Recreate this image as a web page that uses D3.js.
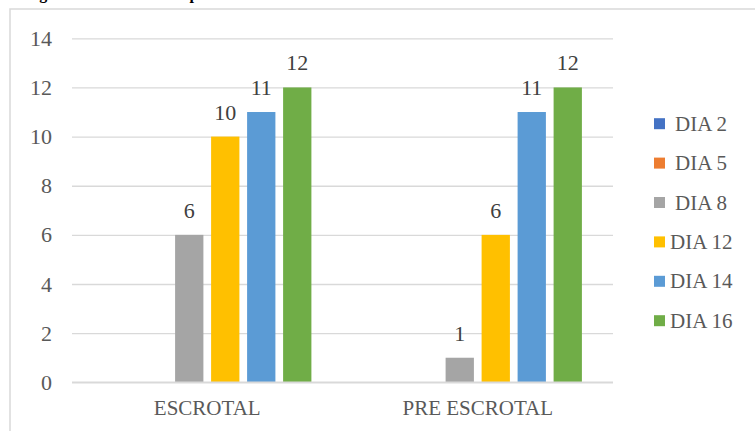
<!DOCTYPE html>
<html>
<head>
<meta charset="utf-8">
<script src="https://cdn.jsdelivr.net/npm/d3@7"></script>
<style>
  html, body { margin: 0; padding: 0; background: #fff; }
  svg { display: block; }
  svg text { font-family: "Liberation Serif", Tinos, "Times New Roman", "DejaVu Serif", serif !important; }
</style>
</head>
<body>
<svg id="chart" width="755" height="431"></svg>
<script>
// Categories on the x axis
const categories = ["ESCROTAL", "PRE ESCROTAL"];
// One series per day
const seriesNames = ["DIA 2", "DIA 5", "DIA 8", "DIA 12", "DIA 14", "DIA 16"];
const seriesColors = ["#4472C4", "#ED7D31", "#A5A5A5", "#FFC000", "#5B9BD5", "#70AD47"];
// Values per series, in category order
const dia2 = [0, 0];
const dia5 = [0, 0];
const dia8 = [6, 1];
const dia12 = [10, 6];
const dia14 = [11, 11];
const dia16 = [12, 12];
const seriesValues = [dia2, dia5, dia8, dia12, dia14, dia16];
const yTicks = [0, 2, 4, 6, 8, 10, 12, 14];

const svg = d3.select("#chart");

// Caption line above the chart frame (mostly outside the view)
svg.append("text")
  .attr("x", 25).attr("y", -1)
  .attr("font-size", 16).attr("font-weight", "bold").attr("fill", "#000")
  .text("Figura 2. Total de casos por día");

// Chart frame
svg.append("rect")
  .attr("x", 10).attr("y", 9).attr("width", 800).attr("height", 500)
  .attr("fill", "none").attr("stroke", "#d9d9d9").attr("stroke-width", 1.5);

const plot = { left: 72, right: 613, top: 38.3, bottom: 382.3 };

const y = d3.scaleLinear().domain([0, 14]).range([plot.bottom, plot.top]);
const x0 = d3.scaleBand().domain(categories).range([plot.left, plot.right]);
const x1 = d3.scaleBand().domain(seriesNames).range([0, x0.bandwidth()])
  .paddingInner(0.214).paddingOuter(0.864);

// Gridlines and value axis labels
const yAxis = d3.axisLeft(y).tickValues(yTicks).tickSize(-(plot.right - plot.left)).tickPadding(20);
const gy = svg.append("g").attr("transform", `translate(${plot.left},0)`).call(yAxis);
gy.select(".domain").remove();
gy.selectAll(".tick line").attr("stroke", "#d9d9d9").attr("stroke-width", 1.3);
gy.selectAll(".tick text")
  .attr("font-size", 22).attr("fill", "#595959");

// Bars
const rows = [];
seriesNames.forEach((s, si) => {
  categories.forEach((c, ci) => {
    rows.push({ series: s, cat: c, value: seriesValues[si][ci], color: seriesColors[si] });
  });
});

svg.append("g").selectAll("rect").data(rows).join("rect")
  .attr("x", d => x0(d.cat) + x1(d.series))
  .attr("y", d => y(d.value))
  .attr("width", x1.bandwidth())
  .attr("height", d => y(0) - y(d.value))
  .attr("fill", d => d.color);

// Baseline at zero
svg.append("line")
  .attr("x1", plot.left).attr("x2", plot.right)
  .attr("y1", y(0)).attr("y2", y(0))
  .attr("stroke", "#d9d9d9").attr("stroke-width", 1.5);

// Value labels
svg.append("g").selectAll("text").data(rows.filter(d => d.value > 0)).join("text")
  .attr("x", d => x0(d.cat) + x1(d.series) + x1.bandwidth() / 2)
  .attr("y", d => y(d.value) - 17)
  .attr("text-anchor", "middle")
  .attr("font-size", 22).attr("fill", "#404040")
  .text(d => d.value);

// Category labels
svg.append("g").selectAll("text").data(categories).join("text")
  .attr("x", d => x0(d) + x0.bandwidth() / 2)
  .attr("y", 415)
  .attr("text-anchor", "middle")
  .attr("font-size", 21).attr("fill", "#595959")
  .text(d => d);

// Legend
const legend = svg.append("g").selectAll("g").data(seriesNames).join("g")
  .attr("transform", (d, i) => `translate(654,${123.7 + i * 39.4})`);
legend.append("rect")
  .attr("x", 0).attr("y", -5.5).attr("width", 11).attr("height", 11)
  .attr("fill", (d, i) => seriesColors[i]);
legend.append("text")
  .attr("x", d => d.length > 5 ? 16 : 21)
  .attr("y", 7)
  .attr("font-size", 21).attr("fill", "#595959")
  .text(d => d);
</script>
</body>
</html>
